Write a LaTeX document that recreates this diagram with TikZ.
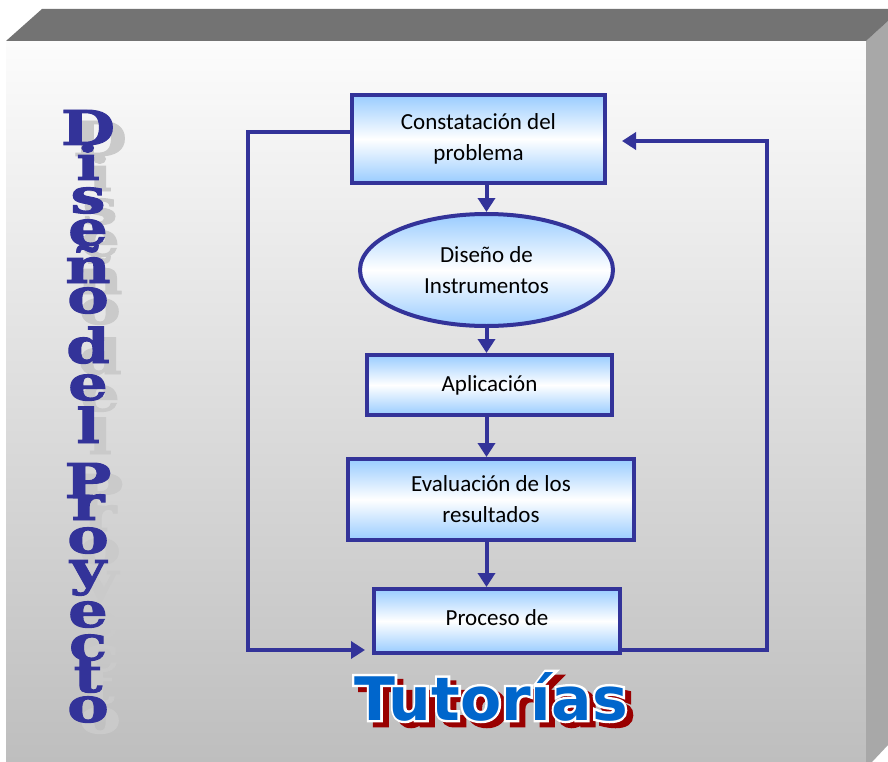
\documentclass[tikz,border=0pt]{standalone}
\usepackage{fontspec}
\setmainfont{Carlito}
\newfontfamily\vfont{DejaVu Serif}[BoldFeatures={FakeBold=2, FakeStretch=1.3}]
\newfontfamily\tfont{DejaVu Sans}
\newfontfamily\tfontw{DejaVu Sans}[BoldFeatures={FakeBold=8}]
\usetikzlibrary{shapes.geometric,arrows.meta}
\definecolor{bord}{HTML}{333399}
\definecolor{lblue}{HTML}{99CCFF}
\definecolor{topg}{HTML}{737373}
\definecolor{sideg}{HTML}{A8A8A8}
\definecolor{tblue}{HTML}{0066CC}
\definecolor{tred}{HTML}{990000}
\definecolor{shad}{HTML}{CACACA}
\definecolor{facetop}{HTML}{FCFCFC}
\definecolor{facebot}{HTML}{BEBEBE}
\begin{document}
\begin{tikzpicture}[x=1pt,y=-1pt,
  flowbox/.style={draw=bord, line width=4pt, rectangle, inner sep=0pt,
    top color=lblue, bottom color=lblue, middle color=white, align=center,
    font=\fontsize{23}{31}\selectfont},
  flowell/.style={flowbox, ellipse},
  conn/.style={draw=bord, line width=4pt},
  arr/.style={conn, -{Triangle[width=17pt,length=14pt]}},
  vlet/.style={font=\vfont\bfseries\fontsize{48}{48}\selectfont, text=bord, anchor=base, inner sep=0pt},
  vsh/.style={vlet, text=shad},
  tw/.style={font=\tfont\bfseries\fontsize{60}{60}\selectfont, anchor=base, inner sep=0pt},
  twout/.style={tw, font=\tfontw\bfseries\fontsize{60}{60}\selectfont}
  ]
\useasboundingbox (0,0) rectangle (888,762);
% 3D box
\fill[white] (0,0) rectangle (888,762);
\fill[top color=facetop, bottom color=facebot] (6,41) -- (866,41) -- (866,762) -- (6,762) -- cycle;
\fill[sideg] (866,41) -- (888,21) -- (888,745) -- (872,762) -- (866,762) -- cycle;
\fill[topg] (6,41) -- (42,9) -- (888,9) -- (888,21) -- (866,41) -- cycle;

% vertical title
\foreach \ch/\yb [count=\i] in {D/145, i/180, s/213, e/245, ñ/283, o/313, d/363, e/400, l/443, P/498, r/520, o/553, y/585, e/627, c/660, t/692, o/722}
  {\node[vsh] (vs\i) at (100,{\yb+11}) {\ch};}
\foreach \ch/\yb [count=\i] in {D/145, i/180, s/213, e/245, ñ/283, o/313, d/363, e/400, l/443, P/498, r/520, o/553, y/585, e/627, c/660, t/692, o/722}
  {\node[vlet] (v\i) at (88,\yb) {\ch};}

% flowchart
\node[flowbox, minimum width=253pt, minimum height=88pt] (b1) at (478.5,139) {Constatación del\\problema};
\node[flowell, minimum width=253pt, minimum height=112pt] (ell) at (486.5,270) {Diseño de\\Instrumentos};
\node[flowbox, minimum width=245pt, minimum height=60pt] (b3) at (489.5,385) {Aplicación};
\node[flowbox, minimum width=286pt, minimum height=81pt] (b4) at (491,499.5) {Evaluación de los\\resultados};
\node[flowbox, minimum width=246pt, minimum height=64pt] (b5) at (497,621) {\raisebox{6pt}{Proceso de}};

\draw[arr] (ell.north |- b1.south) -- (ell.north);
\draw[arr] (ell.south) -- (ell.south |- b3.north);
\draw[arr] (ell.south |- b3.south) -- (ell.south |- b4.north);
\draw[arr] (ell.south |- b4.south) -- (ell.south |- b5.north);

\coordinate (L1) at (248,132);
\coordinate (L2) at (248,650);
\coordinate (R1) at (767,141);
\coordinate (R2) at (767,650);
\draw[arr] (b1.west |- L1) -- (L1) -- (L2) -- ([xshift=-7pt]L2 -| b5.west);
\draw[arr] (b5.east |- R2) -- (R2) -- (R1) -- ([xshift=15pt]R1 -| b1.east);

% Tutorias
\node[twout, text=tred] (tred) at (497,725) {Tutorías};
\node[twout, text=white] (twhite) at (491,720) {Tutorías};
\node[tw, text=tblue] (tut) at (491,720) {Tutorías};
\end{tikzpicture}
\end{document}
